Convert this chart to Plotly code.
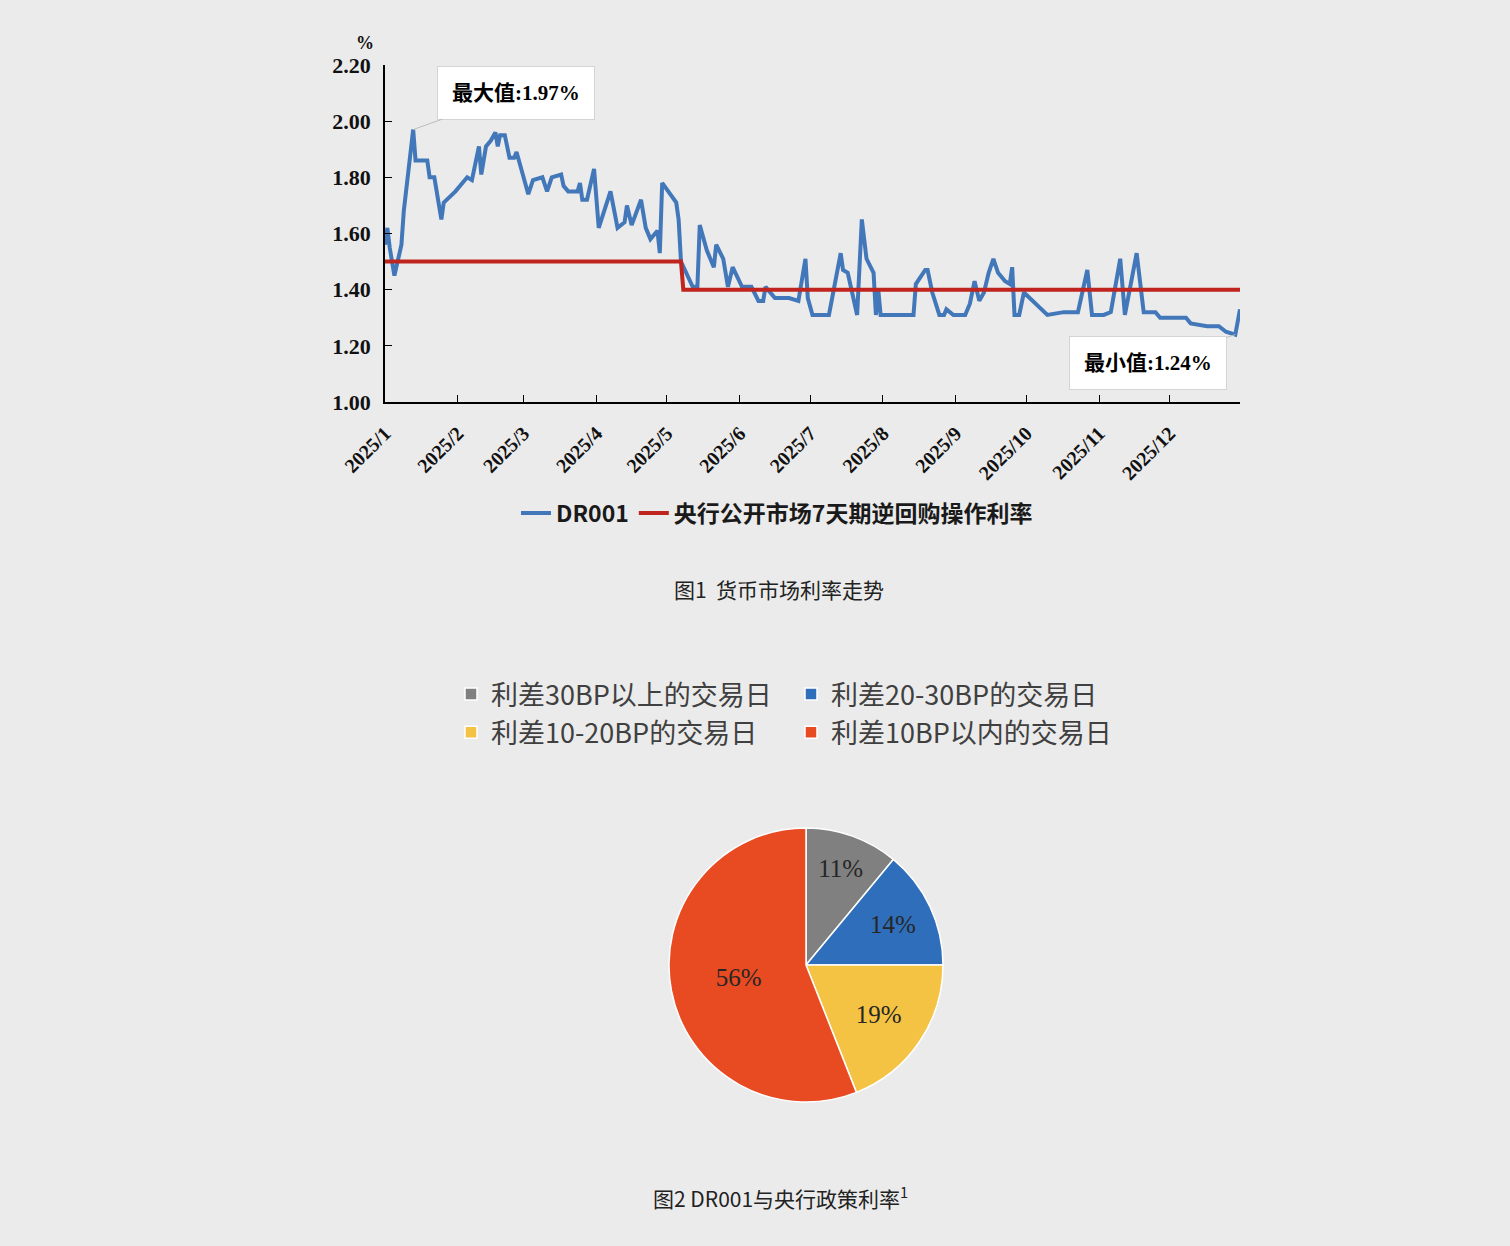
import plotly.graph_objects as go

# DR001 overnight rate (%)
dr_dates = [
    "2025-01-01", "2025-01-02", "2025-01-03", "2025-01-05", "2025-01-08", "2025-01-09",
    "2025-01-13", "2025-01-14", "2025-01-19", "2025-01-20", "2025-01-22", "2025-01-25",
    "2025-01-26", "2025-01-31", "2025-02-05", "2025-02-07", "2025-02-10", "2025-02-11",
    "2025-02-13", "2025-02-15", "2025-02-17", "2025-02-18", "2025-02-19", "2025-02-21",
    "2025-02-23", "2025-02-25", "2025-02-26", "2025-03-03", "2025-03-05", "2025-03-09",
    "2025-03-11", "2025-03-13", "2025-03-17", "2025-03-18", "2025-03-20", "2025-03-24",
    "2025-03-25", "2025-03-26", "2025-03-28", "2025-03-31", "2025-04-02", "2025-04-07",
    "2025-04-10", "2025-04-13", "2025-04-14", "2025-04-16", "2025-04-20", "2025-04-22",
    "2025-04-24", "2025-04-27", "2025-04-28", "2025-04-29", "2025-05-05", "2025-05-06",
    "2025-05-07", "2025-05-12", "2025-05-14", "2025-05-15", "2025-05-18", "2025-05-21",
    "2025-05-22", "2025-05-25", "2025-05-27", "2025-05-29", "2025-06-02", "2025-06-06",
    "2025-06-09", "2025-06-11", "2025-06-12", "2025-06-16", "2025-06-19", "2025-06-22",
    "2025-06-26", "2025-06-29", "2025-06-30", "2025-07-02", "2025-07-09", "2025-07-14",
    "2025-07-15", "2025-07-17", "2025-07-21", "2025-07-23", "2025-07-25", "2025-07-28",
    "2025-07-29", "2025-07-30", "2025-07-31", "2025-08-10", "2025-08-14", "2025-08-15",
    "2025-08-19", "2025-08-20", "2025-08-22", "2025-08-25", "2025-08-27", "2025-08-28",
    "2025-08-31", "2025-09-05", "2025-09-07", "2025-09-09", "2025-09-11", "2025-09-13",
    "2025-09-15", "2025-09-17", "2025-09-19", "2025-09-22", "2025-09-24", "2025-09-25",
    "2025-09-26", "2025-09-28", "2025-09-30", "2025-10-10", "2025-10-17", "2025-10-23",
    "2025-10-27", "2025-10-29", "2025-11-03", "2025-11-06", "2025-11-10", "2025-11-12",
    "2025-11-17", "2025-11-20", "2025-11-25", "2025-11-27", "2025-12-02", "2025-12-08",
    "2025-12-10", "2025-12-17", "2025-12-22", "2025-12-25", "2025-12-29", "2025-12-31",
]
dr_values = [
    1.56, 1.62, 1.55, 1.45, 1.56, 1.68,
    1.97, 1.86, 1.86, 1.80, 1.80, 1.65,
    1.71, 1.75, 1.80, 1.79, 1.91, 1.81,
    1.91, 1.93, 1.96, 1.91, 1.95, 1.95,
    1.87, 1.87, 1.89, 1.74, 1.79, 1.80,
    1.75, 1.80, 1.81, 1.77, 1.75, 1.75,
    1.78, 1.72, 1.72, 1.83, 1.62, 1.75,
    1.62, 1.64, 1.70, 1.63, 1.72, 1.62,
    1.58, 1.61, 1.53, 1.78, 1.71, 1.65,
    1.50, 1.41, 1.41, 1.63, 1.54, 1.48,
    1.56, 1.51, 1.41, 1.48, 1.41, 1.41,
    1.36, 1.36, 1.41, 1.37, 1.37, 1.37,
    1.36, 1.51, 1.37, 1.31, 1.31, 1.53,
    1.47, 1.46, 1.31, 1.65, 1.51, 1.46,
    1.31, 1.40, 1.31, 1.31, 1.31, 1.42,
    1.47, 1.47, 1.39, 1.31, 1.31, 1.33,
    1.31, 1.31, 1.35, 1.43, 1.36, 1.39,
    1.46, 1.51, 1.46, 1.43, 1.42, 1.48,
    1.31, 1.31, 1.39, 1.31, 1.32, 1.32,
    1.47, 1.31, 1.31, 1.32, 1.51, 1.31,
    1.53, 1.32, 1.32, 1.30, 1.30, 1.30,
    1.28, 1.27, 1.27, 1.25, 1.24, 1.33,
]

# 7-day reverse repo rate
policy_dates = ["2025-01-01", "2025-05-07", "2025-05-08", "2025-12-31"]
policy_values = [1.50, 1.50, 1.40, 1.40]

month_ticks = ["2025-%02d-01" % m for m in range(1, 13)]
month_labels = ["2025/%d" % m for m in range(1, 13)]
y_ticks = [1.0, 1.2, 1.4, 1.6, 1.8, 2.0, 2.2]

spread_labels = ["利差30BP以上的交易日", "利差20-30BP的交易日",
                 "利差10-20BP的交易日", "利差10BP以内的交易日"]
spread_shares = [11, 14, 19, 56]
spread_colors = ["#808080", "#2F6EBA", "#F5C343", "#E84A22"]

W, H = 1510, 1246
ML, MR = 380, 265
PW = W - ML - MR
BG = "#ebebeb"
NUM_FONT = "Liberation Serif, Noto Sans CJK SC"
CJK_FONT = "Noto Sans CJK SC"


def px_x(px):
    return (px - ML) / PW


def px_y(py):
    return 1 - py / H


fig = go.Figure()
fig.add_trace(go.Scatter(x=dr_dates, y=dr_values, mode="lines", name="DR001",
                         line=dict(color="#4277BA", width=4)))
fig.add_trace(go.Scatter(x=policy_dates, y=policy_values, mode="lines",
                         name="央行公开市场7天期逆回购操作利率",
                         line=dict(color="#C0241F", width=4)))
fig.add_trace(go.Pie(
    labels=spread_labels, values=spread_shares, sort=False,
    direction="clockwise", rotation=0,
    marker=dict(colors=spread_colors, line=dict(color="white", width=1.5)),
    texttemplate="%{value}%", textposition="inside",
    insidetextorientation="horizontal",
    textfont=dict(family=NUM_FONT, size=25, color="#262626"),
    domain=dict(x=[px_x(669), px_x(943)], y=[px_y(1102), px_y(828)]),
    legend="legend2",
))

imax = dr_values.index(max(dr_values))
imin = dr_values.index(min(dr_values))
box = dict(showarrow=True, arrowhead=0, arrowwidth=1, arrowcolor="#bdbdbd",
           bgcolor="white", bordercolor="#d4d4d4", borderwidth=1, borderpad=14,
           font=dict(family=NUM_FONT, size=21, color="black", weight="bold"))
note = dict(xref="paper", yref="paper", showarrow=False,
            xanchor="center", yanchor="middle")

fig.update_layout(
    width=W, height=H, autosize=False,
    margin=dict(l=ML, r=MR, t=0, b=0, autoexpand=False),
    paper_bgcolor=BG, plot_bgcolor=BG,
    showlegend=True,
    xaxis=dict(
        domain=[px_x(385), px_x(1240)], type="date", automargin=False,
        range=["2025-01-01", "2025-12-31"],
        tickvals=month_ticks, ticktext=month_labels, tickangle=-45,
        ticks="inside", ticklen=7, tickcolor="black", ticklabelstandoff=10,
        showline=True, linecolor="black", linewidth=1.5,
        showgrid=False, zeroline=False,
        tickfont=dict(family=NUM_FONT, size=20, color="#111", weight="bold"),
    ),
    yaxis=dict(
        domain=[px_y(402), px_y(65)], range=[1.0, 2.2], automargin=False,
        tickvals=y_ticks, tickformat=".2f",
        ticks="inside", ticklen=7, tickcolor="black",
        showline=True, linecolor="black", linewidth=1.5,
        showgrid=False, zeroline=False, ticklabelstandoff=8,
        tickfont=dict(family=NUM_FONT, size=22, color="#111", weight="bold"),
    ),
    legend=dict(
        orientation="h", x=px_x(777), xanchor="center",
        y=px_y(513), yanchor="middle", bgcolor="rgba(0,0,0,0)",
        font=dict(family=CJK_FONT, size=23, color="#1a1a1a", weight="bold"),
    ),
    legend2=dict(
        orientation="h", x=px_x(451), xanchor="left",
        y=px_y(670), yanchor="top", bgcolor="rgba(0,0,0,0)",
        entrywidth=295, entrywidthmode="pixels",
        font=dict(family=CJK_FONT, size=27, color="#404040"),
    ),
    annotations=[
        dict(box, x=dr_dates[imax], y=dr_values[imax], ax=103, ay=-37,
             text="最大值:%.2f%%" % dr_values[imax]),
        dict(box, x=dr_dates[imin], y=dr_values[imin], ax=-87, ay=28,
             text="最小值:%.2f%%" % dr_values[imin]),
        dict(note, text="%", x=px_x(365), y=px_y(43),
             font=dict(family=NUM_FONT, size=18, color="#111", weight="bold")),
        dict(note, text="图1  货币市场利率走势", x=px_x(779), y=px_y(589),
             font=dict(family=CJK_FONT, size=21, color="#222")),
        dict(note, text="图2 DR001与央行政策利率<sup>1</sup>",
             x=px_x(780), y=px_y(1197),
             font=dict(family=CJK_FONT, size=21, color="#222")),
    ],
)

# drop the browser's default 8px body margin so the figure fills the window
fig.write_html("out.html", config={"displayModeBar": False},
               post_script="document.body.style.margin = '0';")
